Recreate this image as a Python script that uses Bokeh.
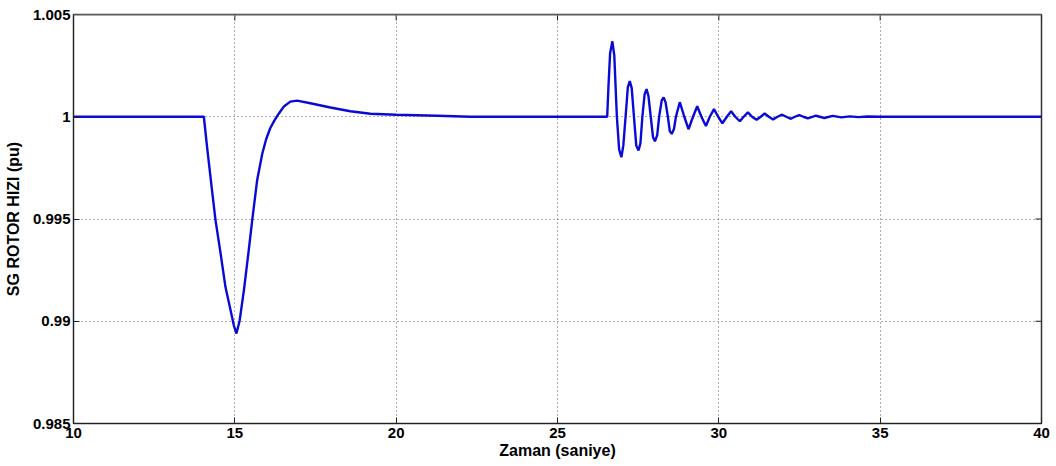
from bokeh.plotting import figure
from bokeh.models import Range1d, FixedTicker, Span
from bokeh.embed import file_html
from bokeh.resources import INLINE

# Synchronous generator rotor speed (pu) versus time (s)
time_s = [
    10.0, 14.04, 14.14, 14.27, 14.40, 14.56, 14.71, 14.87, 14.97, 15.05,
    15.15, 15.28, 15.43, 15.54, 15.69, 15.85, 15.97, 16.10, 16.22, 16.36,
    16.52, 16.72, 16.93, 17.34, 17.96, 18.58, 19.20, 20.00, 21.27, 22.30,
    26.54,
    26.58, 26.63, 26.70, 26.76, 26.84, 26.91, 26.98, 27.04, 27.11, 27.18,
    27.24, 27.30, 27.37, 27.44, 27.51, 27.57, 27.63, 27.70, 27.76, 27.82,
    27.89, 27.96, 28.02, 28.09, 28.15, 28.23, 28.29, 28.35, 28.42, 28.48,
    28.54, 28.61, 28.67, 28.79, 28.93, 29.06, 29.20, 29.33, 29.46, 29.60,
    29.72, 29.85, 29.98, 30.11, 30.25, 30.38, 30.51, 30.65, 30.77, 30.90,
    31.03, 31.17, 31.30, 31.42, 31.55, 31.68, 31.82, 31.96, 32.09, 32.22,
    32.36, 32.49, 32.62, 32.76, 33.01, 33.27, 33.53, 33.80, 34.06, 34.33,
    34.60, 35.00, 40.00,
]
rotor_speed = [
    1.0, 1.0, 0.99851, 0.99672, 0.99496, 0.99330, 0.99167, 0.99053, 0.98979, 0.98940,
    0.99004, 0.99150, 0.99346, 0.99496, 0.99688, 0.99819, 0.99890, 0.99945, 0.99980, 1.00015,
    1.00050, 1.00074, 1.00079, 1.00066, 1.00045, 1.00027, 1.000144, 1.00010, 1.00005, 1.0,
    1.0,
    1.0015, 1.0031, 1.00369, 1.0030, 1.0, 0.9984, 0.99802, 0.9986, 1.0, 1.00145,
    1.00174, 1.0014, 1.0, 0.9986, 0.99835, 0.9987, 1.0, 1.0011, 1.00135, 1.0010,
    1.0, 0.9990, 0.99880, 0.9991, 1.0, 1.0008, 1.00095, 1.0007, 1.0, 0.9993,
    0.99916, 0.9994, 1.0, 1.00071, 1.0, 0.99939, 1.0, 1.00051, 1.0, 0.99955,
    1.0, 1.00037, 1.0, 0.99968, 1.0, 1.00027, 1.0, 0.99978, 1.0, 1.00021,
    1.0, 0.99985, 1.0, 1.00016, 1.0, 0.99987, 1.0, 1.00010, 1.0, 0.99990,
    1.0, 1.00008, 1.0, 0.99992, 1.00005, 0.99994, 1.00004, 0.99997, 1.00002, 0.99998,
    1.00001, 1.0, 1.0,
]

x_ticks = [10, 15, 20, 25, 30, 35, 40]
y_ticks = [0.985, 0.99, 0.995, 1.0, 1.005]
y_tick_labels = ["0.985", "0.99", "0.995", "1", "1.005"]

X_MIN, X_MAX = 10, 40
Y_MIN, Y_MAX = 0.985, 1.005
FONT = "Liberation Sans"

p = figure(
    frame_width=968, frame_height=409,
    min_border_left=73, min_border_right=15, min_border_top=14, min_border_bottom=43,
    x_range=Range1d(X_MIN, X_MAX), y_range=Range1d(Y_MIN, Y_MAX),
    output_backend="svg", toolbar_location=None,
    background_fill_color="white", border_fill_color="white",
)
p.outline_line_color = "#333333"
p.outline_line_width = 1.5

# dotted grid
p.xgrid.ticker = FixedTicker(ticks=x_ticks)
p.ygrid.ticker = FixedTicker(ticks=y_ticks)
for g in (p.xgrid, p.ygrid):
    g.grid_line_color = "#333333"
    g.grid_line_dash = "1 3"
    g.grid_line_alpha = 0.8

# inward ticks on the top and right edges of the box (6 px long)
tick_dy = 6 * (Y_MAX - Y_MIN) / 409
tick_dx = 6 * (X_MAX - X_MIN) / 968
p.segment(x0=x_ticks, y0=[Y_MAX] * len(x_ticks), x1=x_ticks,
          y1=[Y_MAX - tick_dy] * len(x_ticks), line_color="#222222", line_width=1)
p.segment(x0=[X_MAX] * len(y_ticks), y0=y_ticks, x1=[X_MAX - tick_dx] * len(y_ticks),
          y1=y_ticks, line_color="#222222", line_width=1)
p.add_layout(Span(location=Y_MAX, dimension="width", line_color="#8a8a8a", line_width=2))

p.line(time_s, rotor_speed, line_color="#0a0ad8", line_width=2.4)

# axes
for ax, ticks in ((p.xaxis[0], x_ticks), (p.yaxis[0], y_ticks)):
    ax.ticker = FixedTicker(ticks=ticks)
    ax.major_tick_in = 6
    ax.major_tick_out = 0
    ax.minor_tick_line_color = None
    ax.axis_line_color = "#222222"
    ax.major_tick_line_color = "#222222"
    ax.major_label_text_font = FONT
    ax.major_label_text_font_style = "bold"
    ax.major_label_text_font_size = "15px"
    ax.major_label_text_color = "black"
    ax.axis_label_text_font = FONT
    ax.axis_label_text_font_style = "bold"
    ax.axis_label_text_font_size = "16px"
    ax.axis_label_text_color = "black"

p.xaxis[0].major_label_standoff = 4
p.xaxis[0].axis_label = "Zaman (saniye)"
p.xaxis[0].axis_label_standoff = 1

p.yaxis[0].major_label_standoff = 3
p.yaxis[0].major_label_overrides = {t: s for t, s in zip(y_ticks, y_tick_labels)}
p.yaxis[0].axis_label = "SG ROTOR HIZI (pu)"
p.yaxis[0].axis_label_standoff = 8

open("out.html", "w").write(file_html(p, INLINE))
